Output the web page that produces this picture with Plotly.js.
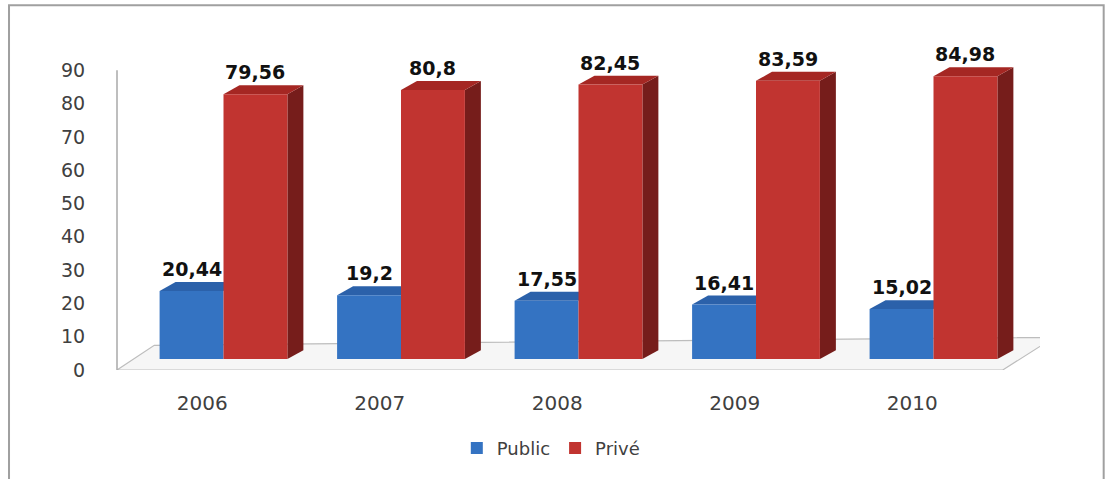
<!DOCTYPE html>
<html>
<head>
<meta charset="utf-8">
<script src="https://cdn.plot.ly/plotly-3.0.1.min.js"></script>
<style>html,body{margin:0;padding:0;background:#fff;}#chart{width:1114px;height:479px;}</style>
</head>
<body>
<div id="chart"></div>
<script>
// ---- data ----
const years = ['2006', '2007', '2008', '2009', '2010'];
const publicVals = [20.44, 19.2, 17.55, 16.41, 15.02];
const priveVals = [79.56, 80.8, 82.45, 83.59, 84.98];
const seriesNames = ['Public', 'Privé'];
const yTicks = [0, 10, 20, 30, 40, 50, 60, 70, 80, 90];

// ---- style ----
const BLUE = '#3473c2', BLUE_TOP = '#2b61aa';
const RED = '#c13430', RED_TOP = '#a52723', RED_SIDE = '#761d1b';
const FONT = 'DejaVu Sans, Verdana, sans-serif';
const HALF = 0.18;      // half bar width in category units
const DX = 0.09;        // depth offset (x units)
const DY = 2.68;        // depth offset (y units)

const idx = years.map((_, i) => i);
const fmt = v => String(v).replace('.', ',');

const traces = [
  {type: 'bar', name: seriesNames[0], x: idx, y: publicVals, yaxis: 'y2',
   marker: {color: BLUE, line: {width: 0}}, hoverinfo: 'skip'},
  {type: 'bar', name: seriesNames[1], x: idx, y: priveVals, yaxis: 'y2',
   marker: {color: RED, line: {width: 0}}, hoverinfo: 'skip'}
];

const shapes = [];
// floor
shapes.push({type: 'path', xref: 'x', yref: 'y', layer: 'below',
  path: `M -0.6,0 L 4.39,0 L 4.68,9.8 L -0.39,7.4 Z`,
  fillcolor: '#f6f6f6', line: {color: '#bdbdbd', width: 1.2}});
// y axis line
shapes.push({type: 'line', xref: 'paper', yref: 'y', x0: 0, x1: 0, y0: 0, y1: yTicks[yTicks.length - 1],
  line: {color: '#a8a8a8', width: 1.5}});
// frame
shapes.push({type: 'rect', xref: 'paper', yref: 'paper', x0: -0.117, x1: 1.069, y0: -0.36, y1: 1.095,
  line: {color: '#a0a0a0', width: 2}, fillcolor: 'rgba(0,0,0,0)'});

idx.forEach(i => {
  const pv = publicVals[i], rv = priveVals[i];
  const bl = i - 2 * HALF, br = i, rl = i, rr = i + 2 * HALF;
  // blue top face
  shapes.push({type: 'path', xref: 'x', yref: 'y2', layer: 'below',
    path: `M ${bl},${pv} L ${bl + DX},${pv + DY} L ${br + DX},${pv + DY} L ${br},${pv} Z`,
    fillcolor: BLUE_TOP, line: {width: 0}});
  // red side face
  shapes.push({type: 'path', xref: 'x', yref: 'y2', layer: 'below',
    path: `M ${rr},0 L ${rr + DX},${DY} L ${rr + DX},${rv + DY} L ${rr},${rv} Z`,
    fillcolor: RED_SIDE, line: {width: 0}});
  // red top face
  shapes.push({type: 'path', xref: 'x', yref: 'y2', layer: 'below',
    path: `M ${rl},${rv} L ${rl + DX},${rv + DY} L ${rr + DX},${rv + DY} L ${rr},${rv} Z`,
    fillcolor: RED_TOP, line: {width: 0}});
});

const annotations = [];
idx.forEach(i => {
  annotations.push({x: i - HALF, y: publicVals[i] + DY, xref: 'x', yref: 'y2',
    text: fmt(publicVals[i]), showarrow: false, yanchor: 'middle', yshift: 13,
    font: {family: FONT, size: 19, color: '#111', weight: 'bold'}});
  annotations.push({x: i + HALF, y: priveVals[i] + DY, xref: 'x', yref: 'y2',
    text: fmt(priveVals[i]), showarrow: false, yanchor: 'middle', yshift: 13,
    font: {family: FONT, size: 19, color: '#111', weight: 'bold'}});
});

const layout = {
  width: 1114, height: 479,
  margin: {l: 117, r: 74, t: 37, b: 106, pad: 0},
  paper_bgcolor: '#ffffff', plot_bgcolor: 'rgba(0,0,0,0)',
  font: {family: FONT, color: '#404040'},
  barmode: 'group', bargap: 0.28, bargroupgap: 0,
  showlegend: true,
  legend: {orientation: 'h', x: 0.47, xanchor: 'center', y: -0.235, yanchor: 'middle',
    font: {family: FONT, size: 18, color: '#404040'}, itemwidth: 30, traceorder: 'normal'},
  xaxis: {range: [-0.6, 4.6], tickmode: 'array', tickvals: idx.map(i => i - 0.12), ticktext: years,
    showgrid: false, zeroline: false, showline: false, ticks: 'outside', ticklen: 15,
    tickcolor: 'rgba(0,0,0,0)', tickfont: {family: FONT, size: 20, color: '#404040'}, fixedrange: true},
  yaxis: {range: [0, 100], tickmode: 'array', tickvals: yTicks, ticktext: yTicks.map(String),
    showgrid: false, zeroline: false, showline: false, ticks: 'outside', ticklen: 27,
    tickcolor: 'rgba(0,0,0,0)', tickfont: {family: FONT, size: 19, color: '#404040'}, fixedrange: true},
  yaxis2: {overlaying: 'y', range: [-3.27, 96.73], visible: false, fixedrange: true},
  shapes: shapes,
  annotations: annotations
};

Plotly.newPlot('chart', traces, layout, {displayModeBar: false, staticPlot: true});
</script>
</body>
</html>
